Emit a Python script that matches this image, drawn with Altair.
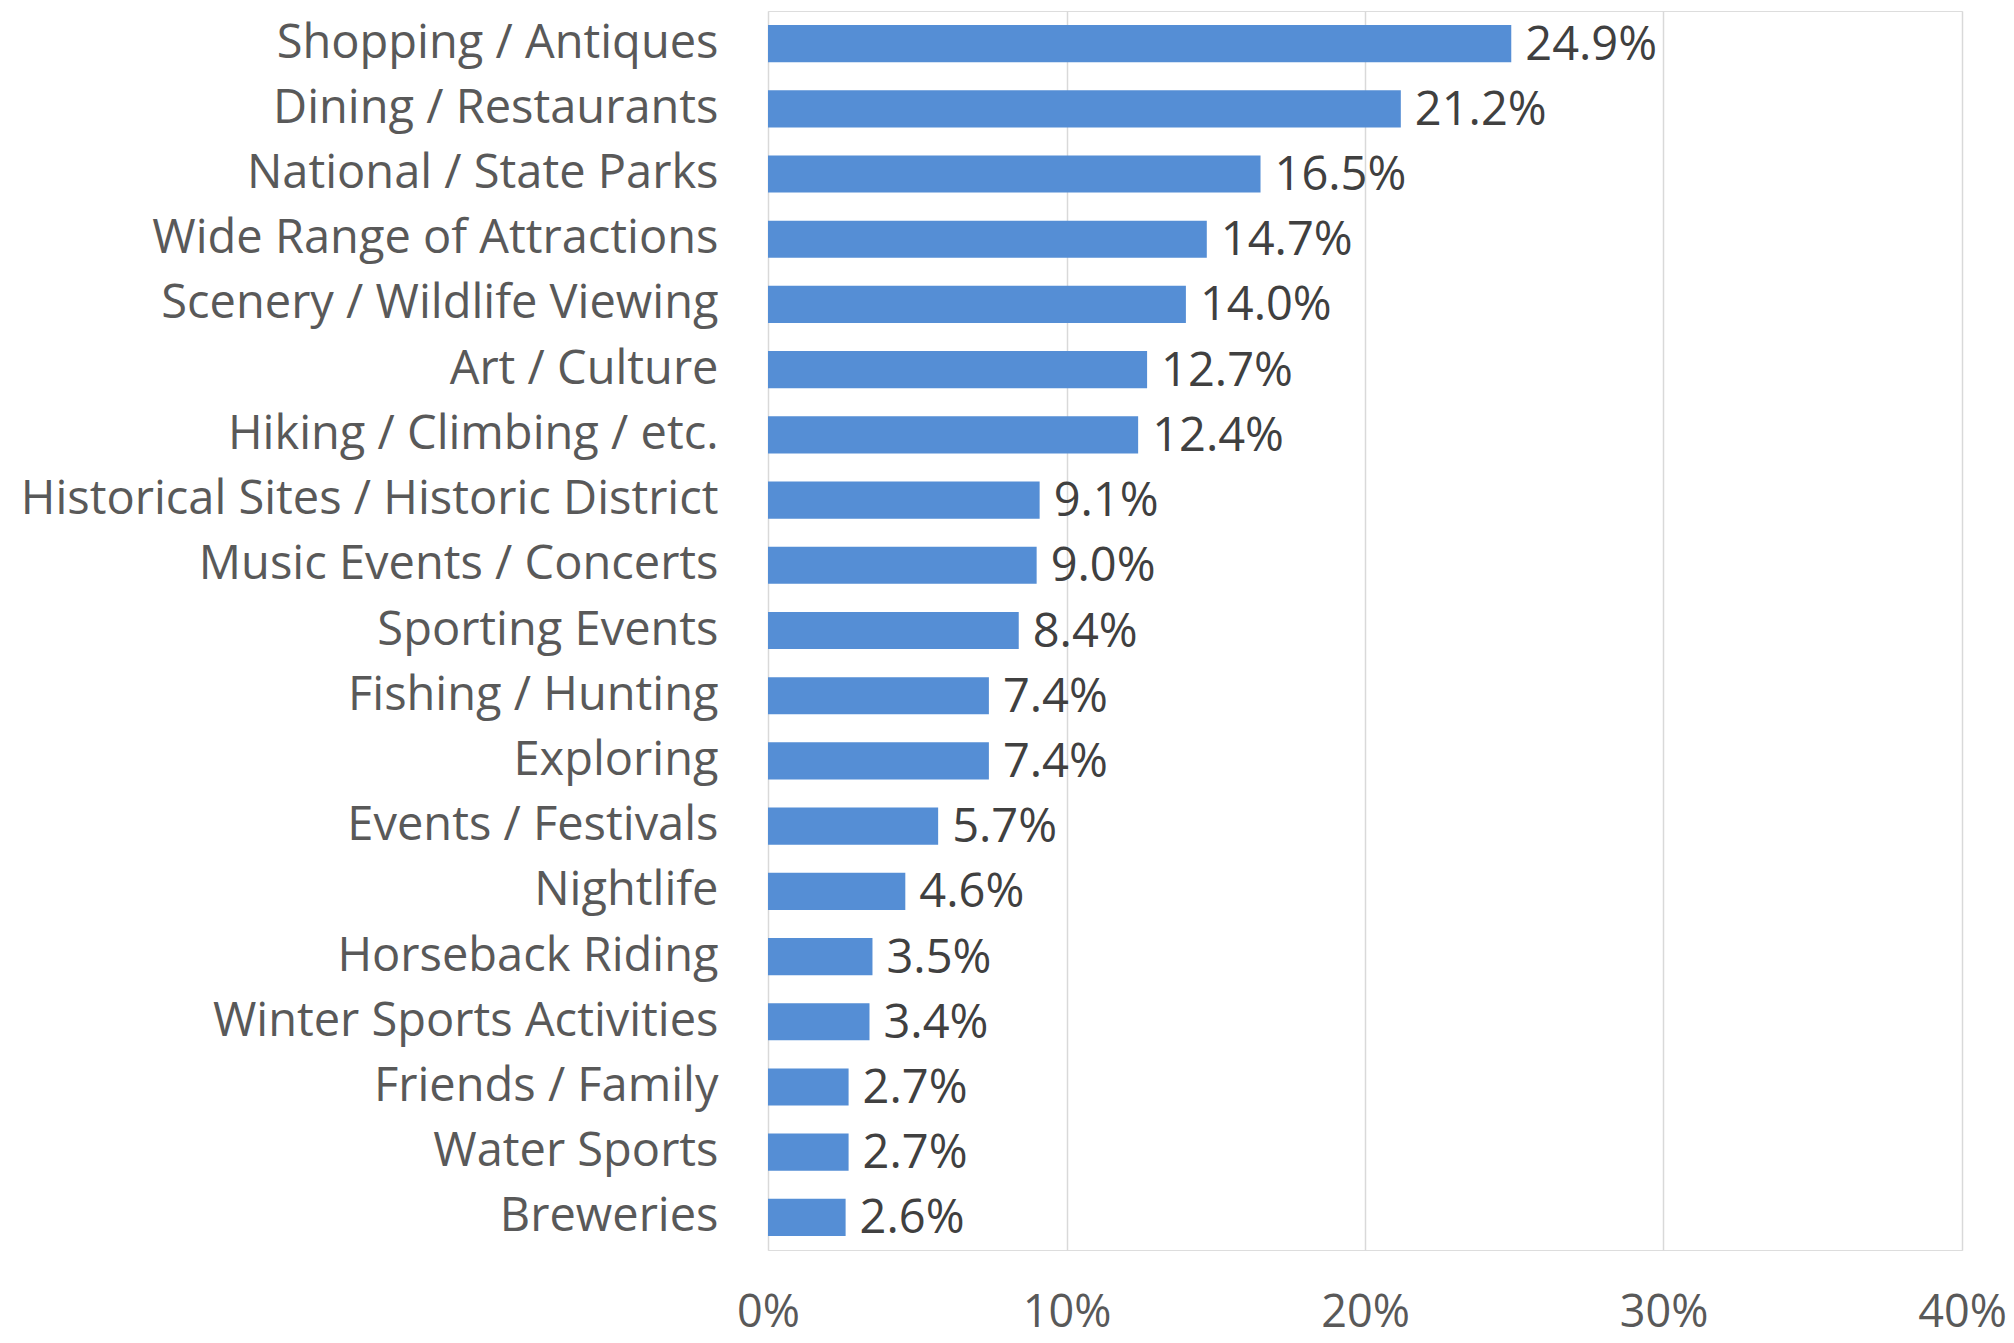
import altair as alt
import pandas as pd

categories = [
    "Shopping / Antiques", "Dining / Restaurants", "National / State Parks",
    "Wide Range of Attractions", "Scenery / Wildlife Viewing", "Art / Culture",
    "Hiking / Climbing / etc.", "Historical Sites / Historic District",
    "Music Events / Concerts", "Sporting  Events", "Fishing / Hunting",
    "Exploring ", "Events / Festivals", "Nightlife", "Horseback Riding",
    "Winter Sports Activities", "Friends / Family", "Water Sports", "Breweries",
]
values_pct = [24.9, 21.2, 16.5, 14.7, 14.0, 12.7, 12.4, 9.1, 9.0, 8.4, 7.4, 7.4,
              5.7, 4.6, 3.5, 3.4, 2.7, 2.7, 2.6]
x_ticks = [0, 0.1, 0.2, 0.3, 0.4]

df = pd.DataFrame({"category": categories, "value": [v / 100 for v in values_pct]})

FONT = "Open Sans"
y_enc = alt.Y("category:N", sort=categories, title=None,
              scale=alt.Scale(paddingInner=0.43, paddingOuter=0.215),
              axis=alt.Axis(ticks=False, domain=False, grid=False, labelPadding=50,
                            labelFontSize=47, labelColor="#595959", labelFont=FONT,
                            labelLimit=1000))
x_enc = alt.X("value:Q", title=None,
              scale=alt.Scale(domain=[0, 0.4], nice=False),
              axis=alt.Axis(values=x_ticks, format=".0%", ticks=False, domain=False,
                            labelFlush=False, labelPadding=40, labelFontSize=45,
                            labelColor="#595959", labelFont=FONT,
                            gridColor="#d9d9d9", gridWidth=1.5))

bars = alt.Chart(df).mark_bar(color="#558ed5").encode(x=x_enc, y=y_enc)
labels = alt.Chart(df).mark_text(align="left", baseline="middle", dx=14, dy=2,
                                 fontSize=47, font=FONT, color="#404040").encode(
    x=alt.X("value:Q"), y=alt.Y("category:N", sort=categories),
    text=alt.Text("value:Q", format=".1%"))

chart = (bars + labels).properties(
    width=1194, height=1239,
    autosize=alt.AutoSizeParams(type="none"),
    padding={"left": 760, "top": 3, "right": 44, "bottom": 90},
).configure_view(strokeWidth=0, stroke="transparent").configure(background="white")

chart.save("out.html", embed_options={"renderer": "svg", "actions": False})
